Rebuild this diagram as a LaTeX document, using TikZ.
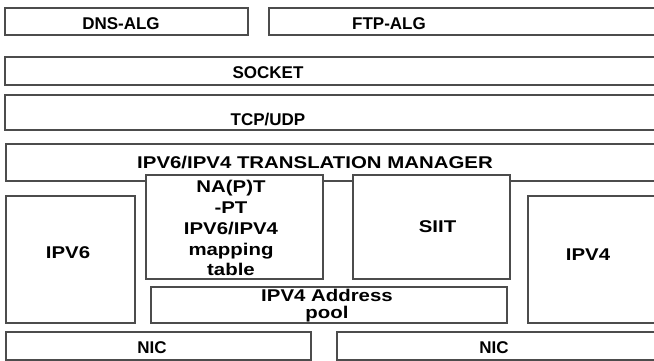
\documentclass[tikz,border=0pt]{standalone}
\usepackage{fontspec}
\setmainfont{Liberation Sans}
\newfontfamily\widefont[FakeStretch=1.2]{Liberation Sans}

\tikzset{
  box/.style={draw=black!70, line width=1.5pt, fill=white},
  txt/.style={inner sep=0pt, anchor=base, font=\fontsize{17}{20}\selectfont\bfseries},
  widetxt/.style={inner sep=0pt, align=center, font=\widefont\fontsize{17}{20}\selectfont\bfseries},
}

\begin{document}
\begin{tikzpicture}[x=1pt,y=-1pt]
  \clip (0,0) rectangle (654,361);
  \fill [white] (0,0) rectangle (654,361);

  % Gateways
  \draw [box] (5,8) rectangle (248,35);
  \draw [box] (269,8) rectangle (670,35);
  \node [txt] (dns) at (121,30) {DNS-ALG};
  \node [txt] (ftp) at (389,30) {FTP-ALG};

  % Socket and transport
  \draw [box] (5,57) rectangle (670,85);
  \node [txt] (socket) at (268,78) {SOCKET};
  \draw [box] (5,95) rectangle (670,130);
  \node [txt] (tcp) at (268,125) {TCP/UDP};

  % Translation manager
  \draw [box] (6,144) rectangle (670,181);
  \node [widetxt, anchor=base] (manager) at (315,168) {IPV6/IPV4 TRANSLATION MANAGER};

  % Inner boxes
  \draw [box] (6,196) rectangle (135,323);
  \node [widetxt, anchor=base] (ipvsix) at (68,258) {IPV6};
  \draw [box] (146,175) rectangle (323,279);
  \node [widetxt, font=\widefont\fontsize{17}{20.75}\selectfont\bfseries] (napt) at (231,228.3)
    {NA(P)T\\-PT\\IPV6/IPV4\\mapping\\table};
  \draw [box] (353,175) rectangle (510,279);
  \node [widetxt, anchor=base] (siit) at (437.5,232) {SIIT};
  \draw [box] (528,196) rectangle (670,323);
  \node [widetxt, anchor=base] (ipvfour) at (588,260) {IPV4};
  \draw [box] (151,287) rectangle (507,323);
  \node [widetxt, font=\widefont\fontsize{17}{16.5}\selectfont\bfseries] (pool) at (327,305.5)
    {IPV4 Address\\pool};

  % Network cards
  \draw [box] (6,332) rectangle (311,360);
  \node [txt] (nicleft) at (152,353) {NIC};
  \draw [box] (337,332) rectangle (670,360);
  \node [txt] (nicright) at (494,353) {NIC};
\end{tikzpicture}
\end{document}
